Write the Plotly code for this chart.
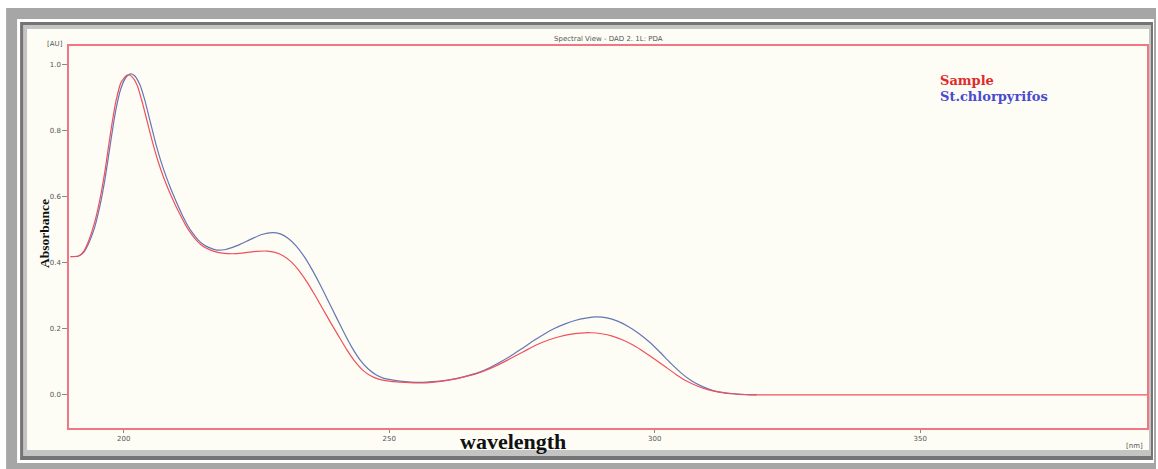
import plotly.graph_objects as go

# ---------------- data ----------------
wl_sample = [190, 191.5, 192.5, 193.5, 194.5, 195.5, 196.5, 197.5, 198.5, 199.5, 200.5, 201.0, 201.5,
             202.5, 203.5, 204.5, 205.5, 206.5, 207.5, 208.5, 209.5, 210.5, 211.5, 212.5, 213.5, 214.5,
             215.5, 217, 219, 221, 223, 225, 227, 228.5, 230, 231.5, 233, 234.5, 236, 237.5, 239, 240.5,
             242, 243.5, 245, 246.5, 248, 250, 252, 254, 256, 258, 260, 262, 264, 266, 268, 270, 272,
             274, 276, 278, 280, 282, 284, 286, 288, 290, 292, 294, 296, 298, 300, 302, 304, 306, 308,
             310, 312, 314, 316, 318, 320, 393]
abs_sample = [0.418, 0.420, 0.435, 0.470, 0.520, 0.590, 0.680, 0.790, 0.885, 0.945, 0.966, 0.968, 0.963,
              0.938, 0.885, 0.822, 0.760, 0.705, 0.658, 0.618, 0.582, 0.549, 0.518, 0.492, 0.471, 0.455,
              0.444, 0.434, 0.428, 0.427, 0.430, 0.434, 0.435, 0.431, 0.421, 0.403, 0.376, 0.342, 0.302,
              0.260, 0.218, 0.177, 0.137, 0.102, 0.075, 0.058, 0.048, 0.042, 0.039, 0.037, 0.036, 0.038,
              0.042, 0.047, 0.054, 0.062, 0.073, 0.087, 0.103, 0.120, 0.137, 0.153, 0.166, 0.176, 0.183,
              0.187, 0.188, 0.185, 0.178, 0.166, 0.150, 0.130, 0.108, 0.085, 0.062, 0.042, 0.027, 0.016,
              0.009, 0.005, 0.002, 0.001, 0.0, 0.0]

wl_std = [190, 191.5, 192.5, 193.5, 194.5, 195.5, 196.5, 197.5, 198.5, 199.5, 200.5, 201.3, 202, 203,
          204, 205, 206, 207, 208, 209, 210, 211, 212, 213, 214, 215, 216, 217.5, 219, 220.5, 222, 224,
          226, 228, 229.5, 231, 232.5, 234, 235.5, 237, 238.5, 240, 241.5, 243, 244.5, 246, 247.5, 249,
          251, 253, 255, 257, 259, 261, 263, 265, 267, 269, 271, 273, 275, 277, 279, 281, 283, 285, 287,
          289, 291, 293, 295, 297, 299, 301, 303, 305, 307, 309, 311, 313, 315, 317, 319.2]
abs_std = [0.418, 0.420, 0.432, 0.462, 0.505, 0.570, 0.655, 0.760, 0.860, 0.928, 0.962, 0.971, 0.966,
           0.940, 0.890, 0.826, 0.762, 0.707, 0.660, 0.618, 0.580, 0.545, 0.514, 0.489, 0.469, 0.455, 0.446,
           0.438, 0.439, 0.446, 0.456, 0.471, 0.485, 0.491, 0.487, 0.473, 0.450, 0.418, 0.378, 0.333,
           0.285, 0.236, 0.188, 0.143, 0.106, 0.079, 0.061, 0.050, 0.044, 0.040, 0.038, 0.039, 0.041,
           0.045, 0.051, 0.059, 0.069, 0.083, 0.100, 0.119, 0.140, 0.162, 0.182, 0.200, 0.214, 0.225,
           0.232, 0.236, 0.233, 0.223, 0.207, 0.186, 0.160, 0.129, 0.096, 0.066, 0.042, 0.025, 0.013,
           0.006, 0.003, 0.001, 0.0]

x_ticks = [200, 250, 300, 350]
y_ticks = [0.0, 0.2, 0.4, 0.6, 0.8, 1.0]
y_tick_labels = ["0.0", "0.2", "0.4", "0.6", "0.8", "1.0"]
series_names = ["Sample", "St.chlorpyrifos"]

# ---------------- layout helpers ----------------
W, H = 1158, 469
L, R, T, B = 69, 1149, 46, 428


def px(x):
    return (x - L) / (R - L)


def py(y):
    return (B - y) / (B - T)


def rect(x0, y0, x1, y1, color):
    return dict(type="rect", xref="paper", yref="paper", x0=px(x0), x1=px(x1), y0=py(y1), y1=py(y0),
                fillcolor=color, line=dict(width=0), layer="below")


def label(text, x, y, size, color, family="DejaVu Sans", xanchor="center", angle=0):
    return dict(text=text, x=px(x), y=py(y), xref="paper", yref="paper", showarrow=False,
                xanchor=xanchor, yanchor="middle", textangle=angle,
                font=dict(family=family, size=size, color=color))


BEIGE = "#fdfdf6"
FRAME = "#f07683"
TXT = "#555555"

fig = go.Figure()
fig.add_trace(go.Scatter(x=wl_std, y=abs_std, mode="lines", name=series_names[1],
                         line=dict(color="#6675b4", width=1.2, shape="spline", smoothing=0.5)))
fig.add_trace(go.Scatter(x=wl_sample, y=abs_sample, mode="lines", name=series_names[0],
                         line=dict(color="#f0505c", width=1.2, shape="spline", smoothing=0.5)))

shapes = [
    rect(6, 8, 1158, 469, "#a6a6a6"),
    rect(17, 19, 1156, 463, "#ffffff"),
    rect(20, 22, 1155, 460, "#747474"),
    rect(23, 25, 1153, 456, "#c4c4c4"),
    rect(27, 29, 1151, 450, BEIGE),
]

annotations = [
    label("Spectral View - DAD 2. 1L: PDA", 609, 39, 7, TXT),
    label("[AU]", 55, 44, 7, TXT),
    label("[nm]", 1147, 446, 7, TXT, xanchor="right"),
    label("<b>Absorbance</b>", 44, 234, 13.5, "#111111", family="Liberation Serif", angle=-90),
    label("<b>wavelength</b>", 514, 441, 22, "#111111", family="Liberation Serif"),
    label("<b>" + series_names[0] + "</b>", 940, 80, 13, "#e02a2a", family="DejaVu Serif", xanchor="left"),
    label("<b>" + series_names[1] + "</b>", 940, 97, 13, "#4a4ad0", family="DejaVu Serif", xanchor="left"),
]

fig.update_layout(
    width=W, height=H,
    margin=dict(l=L, r=W - R, t=T, b=H - B, pad=0),
    paper_bgcolor="#ffffff",
    plot_bgcolor=BEIGE,
    showlegend=False,
    shapes=shapes,
    annotations=annotations,
    xaxis=dict(range=[189.7, 392.7], tickvals=x_ticks, ticks="outside", ticklen=3, tickcolor="#888888",
               showgrid=False, zeroline=False, showline=True, linecolor=FRAME, linewidth=1.5, mirror=True,
               tickfont=dict(family="DejaVu Sans", size=7, color=TXT)),
    yaxis=dict(range=[-0.1, 1.055], tickvals=y_ticks, ticktext=y_tick_labels, ticks="outside", ticklen=5,
               tickcolor="#888888", showgrid=False, zeroline=False, showline=True, linecolor=FRAME,
               linewidth=1.5, mirror=True, tickfont=dict(family="DejaVu Sans", size=7, color=TXT)),
)

fig.write_html("out.html")
